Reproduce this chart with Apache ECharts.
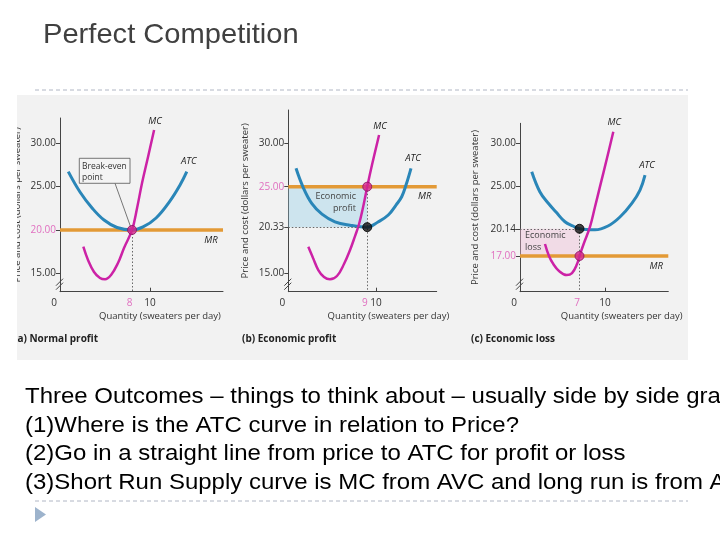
<!DOCTYPE html>
<html>
<head>
<meta charset="utf-8">
<script src="https://cdn.jsdelivr.net/npm/echarts@6/dist/echarts.min.js"></script>
<style>html,body{margin:0;padding:0;background:#fff}#c{width:720px;height:540px}</style>
</head>
<body>
<div id="c"></div>
<script>
// ---------- texts ----------
const slideTitle = 'Perfect Competition';
const bodyLines = [
  'Three Outcomes \u2013 things to think about \u2013 usually side by side graphs',
  '(1)Where is the ATC curve in relation to Price?',
  '(2)Go in a straight line from price to ATC for profit or loss',
  '(3)Short Run Supply curve is MC from AVC and long run is from ATC'
];
const panelCaptions = ['(a) Normal profit', '(b) Economic profit', '(c) Economic loss'];
const xAxisTitle = 'Quantity (sweaters per day)';
const yAxisTitle = 'Price and cost (dollars per sweater)';

// ---------- panel (a) Normal profit ----------
const aMC  = [[2.59,18.07],[3.11,16.54],[3.78,15.16],[4.44,14.46],[5.0,14.31],[5.67,14.81],[6.44,16.19],[7.11,17.92],[8,20],[8.56,22.54],[9.11,25.42],[9.78,28.46],[10.45,31.54]];
const aATC = [[0.92,26.73],[2.22,24.38],[3.56,22.54],[4.89,21.15],[6.33,20.29],[8,20],[9.22,20.35],[10.67,21.38],[12.22,23.35],[13.33,25.19],[14.08,26.73]];
const aPrice = 20, aQty = 8, aATCmin = 20;
const aYTicks = [15, 20, 25, 30];
const aXTicks = [0, 8, 10];

// ---------- panel (b) Economic profit ----------
const bMC  = [[2.28,18.07],[2.82,16.77],[3.42,15.38],[4.07,14.57],[4.75,14.31],[5.55,14.69],[6.35,16.07],[7.04,17.69],[7.61,19.3],[8.07,20.69],[8.53,22.65],[9,25],[9.54,27.5],[10.35,30.96]];
const bATC = [[0.88,27.12],[1.68,24.96],[2.67,23.08],[3.84,21.84],[5.32,20.95],[7.03,20.55],[9,20.33],[10.23,20.92],[11.4,21.73],[12.28,22.88],[12.93,23.84],[13.42,25.19],[13.99,27.12]];
const bPrice = 25, bQty = 9, bATCmin = 20.33;
const bYTicks = [15, 20.33, 25, 30];
const bXTicks = [0, 9, 10];

// ---------- panel (c) Economic loss ----------
const cMC  = [[2.94,18.38],[3.41,17.0],[3.92,16.07],[4.59,15.27],[5.49,14.8],[6.12,15.03],[6.71,16.07],[7,17],[7.53,18.5],[8.24,20.38],[8.82,22.65],[9.41,25],[10.24,28.3],[10.98,31.34]];
const cATC = [[1.38,26.72],[2.35,24.38],[3.33,23.08],[4.24,22.07],[5.29,20.95],[6.24,20.46],[7,20.14],[8.82,20.02],[10.35,20.46],[11.76,21.5],[13.18,23.11],[14.12,24.61],[14.71,26.34]];
const cPrice = 17, cQty = 7, cATCval = 20.14;
const cYTicks = [17, 20.14, 25, 30];
const cXTicks = [0, 7, 10];

// ---------- styling ----------
const MC_COLOR = '#cc22a6', ATC_COLOR = '#2a86b8', MR_COLOR = '#e39a36';
const PINK_TXT = '#e070c0', TXT = '#333';
const FONT = "'Open Sans', 'DejaVu Sans', sans-serif";

const panels = [
  {mc:aMC, atc:aATC, price:aPrice, qty:aQty, atcAt:aATCmin, yTicks:aYTicks, xTicks:aXTicks,
   grid:{left:60, top:118, width:163, height:173.7}, ymin:12.88, ymax:32.92, xmax:18.1,
   namePad:37, yNameGap:38, shade:null},
  {mc:bMC, atc:bATC, price:bPrice, qty:bQty, atcAt:bATCmin, yTicks:bYTicks, xTicks:bXTicks,
   grid:{left:288.3, top:110, width:148.4, height:181.7}, ymin:12.88, ymax:33.85, xmax:16.92,
   namePad:52, yNameGap:38, shade:'rgba(160,210,232,0.45)'},
  {mc:cMC, atc:cATC, price:cPrice, qty:cQty, atcAt:cATCval, yTicks:cYTicks, xTicks:cXTicks,
   grid:{left:520, top:123.3, width:148.3, height:168.4}, ymin:12.88, ymax:32.31, xmax:17.45,
   namePad:55, yNameGap:40, shade:'rgba(240,185,212,0.40)'}
];

const grids = [], xAxes = [], yAxes = [], series = [];
panels.forEach((p, i) => {
  grids.push(Object.assign({containLabel:false, show:false}, p.grid));
  xAxes.push({
    type:'value', gridIndex:i, min:0, max:p.xmax,
    splitLine:{show:false},
    axisLine:{show:true, lineStyle:{color:'#444', width:1}},
    axisTick:{show:true, customValues:[10], length:4, inside:true, lineStyle:{color:'#444'}},
    axisLabel:{customValues:p.xTicks, margin:6, fontFamily:FONT, fontSize:10, color:TXT,
      formatter: v => v === 0 ? '{z|0}' : (v === p.qty ? '{p|' + v + '}' : '{n|' + v + '}'),
      rich:{z:{padding:[0,12,0,0], fontSize:10, color:TXT, fontFamily:FONT},
            p:{color:PINK_TXT, fontSize:10, fontFamily:FONT, padding:[0,5,0,0]},
            n:{color:TXT, fontSize:10, fontFamily:FONT}}},
    name:xAxisTitle, nameLocation:'middle', nameGap:20,
    nameTextStyle:{fontFamily:FONT, fontSize:9.5, color:'#333', padding:[0,0,0,p.namePad]}
  });
  yAxes.push({
    type:'value', gridIndex:i, min:p.ymin, max:p.ymax,
    splitLine:{show:false},
    axisLine:{show:true, lineStyle:{color:'#444', width:1}},
    axisTick:{show:true, customValues:p.yTicks, length:4, lineStyle:{color:'#444'}},
    axisLabel:{customValues:p.yTicks, margin:4, fontFamily:FONT, fontSize:10,
      formatter: v => v === p.price ? '{p|' + v.toFixed(2) + '}' : '{n|' + v.toFixed(2) + '}',
      rich:{p:{color:PINK_TXT, fontSize:10, fontFamily:FONT}, n:{color:TXT, fontSize:10, fontFamily:FONT}}},
    name:yAxisTitle, nameLocation:'middle', nameGap:p.yNameGap, nameRotate:90,
    nameTextStyle:{fontFamily:FONT, fontSize:9.5, color:'#333'}
  });

  // MR line (price)
  const mrSeries = {
    type:'line', xAxisIndex:i, yAxisIndex:i, data:[[0,p.price],[p.xmax,p.price]],
    symbol:'none', lineStyle:{color:MR_COLOR, width:3.5}, z:2, silent:true
  };
  if (p.shade) {
    const lo = Math.min(p.price, p.atcAt), hi = Math.max(p.price, p.atcAt);
    mrSeries.markArea = {silent:true, itemStyle:{color:p.shade},
      data:[[{coord:[0, lo]}, {coord:[p.qty, hi]}]]};
  }
  // dotted guides
  const guides = [[{coord:[p.qty, Math.max(p.price, p.atcAt)]}, {coord:[p.qty, p.ymin]}]];
  if (p.price !== p.atcAt) guides.push([{coord:[0, p.atcAt]}, {coord:[p.qty, p.atcAt]}]);
  mrSeries.markLine = {silent:true, symbol:'none', label:{show:false},
    lineStyle:{color:'#666', type:[1.5,2], width:1}, data:guides};
  series.push(mrSeries);

  series.push({type:'line', xAxisIndex:i, yAxisIndex:i, data:p.atc, smooth:0.4, symbol:'none',
    lineStyle:{color:ATC_COLOR, width:3}, z:3, silent:true});
  series.push({type:'line', xAxisIndex:i, yAxisIndex:i, data:p.mc, smooth:0.4, symbol:'none',
    lineStyle:{color:MC_COLOR, width:2.5}, z:4, silent:true});

  // points
  const dots = [{value:[p.qty, p.price], itemStyle:{color:'#d4258f', borderColor:'#8a1060', borderWidth:1}}];
  if (p.price !== p.atcAt) dots.push({value:[p.qty, p.atcAt], itemStyle:{color:'#111', borderColor:'#000'}});
  series.push({type:'scatter', xAxisIndex:i, yAxisIndex:i, data:dots, symbolSize:9, z:6, silent:true});
});

const chart = echarts.init(document.getElementById('c'), null, {renderer:'canvas'});
chart.setOption({
  animation:false, backgroundColor:'#ffffff',
  grid:grids, xAxis:xAxes, yAxis:yAxes, series:series
});

// ---------- annotations (positioned from data through the axes) ----------
const px = (i, pt) => chart.convertToPixel({gridIndex:i}, pt);
const g = [];
// slide frame
g.push({type:'rect', shape:{x:17, y:95, width:671, height:265}, style:{fill:'#f2f2f2'}, z:-10, silent:true});
g.push({type:'line', shape:{x1:35, y1:90, x2:688, y2:90}, style:{stroke:'#b0b6c4', lineWidth:1, lineDash:[4,3]}, silent:true});
g.push({type:'line', shape:{x1:35, y1:501, x2:688, y2:501}, style:{stroke:'#b0b6c4', lineWidth:1, lineDash:[4,3]}, silent:true});
g.push({type:'polygon', shape:{points:[[35,507],[46,514.5],[35,522]]}, style:{fill:'#9db3cc'}, silent:true});
g.push({type:'text', x:43, y:35, scaleX:1.04, style:{text:slideTitle, font:"28px 'Liberation Sans', Arial, sans-serif", fill:'#404040', textVerticalAlign:'middle'}, silent:true});
bodyLines.forEach((t, k) => {
  g.push({type:'text', x:25, y:397 + k*28.7, scaleX:1.09, style:{text:t, font:"22px 'Liberation Sans', Arial, sans-serif", fill:'#000', textVerticalAlign:'middle'}, silent:true});
});
// captions
const capX = [14, 242, 471];
panelCaptions.forEach((t, k) => {
  g.push({type:'text', x:capX[k], y:339, style:{text:t, font:"bold 10px 'Open Sans', sans-serif", fill:'#222', textVerticalAlign:'middle'}, z:5, silent:true});
});
// curve labels
panels.forEach((p, i) => {
  const mcEnd = px(i, p.mc[p.mc.length-1]);
  const atcEnd = px(i, p.atc[p.atc.length-1]);
  const mrEnd = px(i, [p.xmax, p.price]);
  const lab = (x, y, t) => g.push({type:'text', x:x, y:y, style:{text:t, font:"italic 9.5px 'Open Sans', sans-serif", fill:'#222', textAlign:'center', textVerticalAlign:'middle'}, z:7, silent:true});
  lab(mcEnd[0] + 1, mcEnd[1] - 9, 'MC');
  lab(atcEnd[0] + 2, atcEnd[1] - 10, 'ATC');
  lab(mrEnd[0] - 12, mrEnd[1] + 10, 'MR');
  // axis break marks
  const b = px(i, [0, p.ymin]);
  [0, 4].forEach(d => g.push({type:'line', shape:{x1:b[0]-4, y1:b[1]-6+d, x2:b[0]+3, y2:b[1]-13+d}, style:{stroke:'#444', lineWidth:1}, z:7, silent:true}));
});
// break-even box (a)
const be = px(0, [aQty, aPrice]);
g.push({type:'line', shape:{x1:115, y1:183.3, x2:be[0]-1, y2:be[1]-2}, style:{stroke:'#555', lineWidth:0.8}, z:5, silent:true});
g.push({type:'rect', shape:{x:79.3, y:158.3, width:50.7, height:25}, style:{fill:'#f4f4f4', stroke:'#555', lineWidth:0.8}, z:5, silent:true});
g.push({type:'text', x:82, y:161, style:{text:'Break-even\npoint', font:"8.5px 'Open Sans', sans-serif", fill:'#333', lineHeight:11}, z:6, silent:true});
// economic profit (b)
g.push({type:'text', x:356, y:202, style:{text:'Economic\nprofit', font:"9px 'Open Sans', sans-serif", fill:'#444', textAlign:'right', textVerticalAlign:'middle', lineHeight:12}, z:6, silent:true});
// economic loss (c)
g.push({type:'text', x:525, y:241, style:{text:'Economic\nloss', font:"9px 'Open Sans', sans-serif", fill:'#444', textVerticalAlign:'middle', lineHeight:12}, z:6, silent:true});
// crop of the scanned figure on the left edge
g.push({type:'rect', shape:{x:0, y:95, width:17, height:265}, style:{fill:'#ffffff'}, z:50, silent:true});

chart.setOption({graphic:g});
</script>
</body>
</html>
